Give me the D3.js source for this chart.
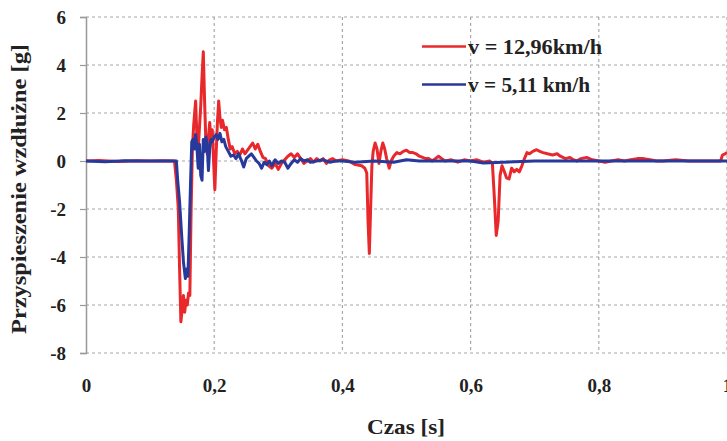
<!DOCTYPE html>
<html><head><meta charset="utf-8">
<script src="https://cdn.jsdelivr.net/npm/d3@7"></script>
<style>
html,body{margin:0;padding:0;background:#fff;}
svg{display:block;}
text{font-family:"Liberation Serif","Times New Roman",serif;font-weight:bold;fill:#222;}
</style></head>
<body>
<svg id="chart" width="727" height="441"></svg>
<script>
// ---- data ----
const xTicks = [0, 0.2, 0.4, 0.6, 0.8, 1];
const xTickLabels = ["0", "0,2", "0,4", "0,6", "0,8", "1"];
const yTicks = [-8, -6, -4, -2, 0, 2, 4, 6];
const yTickLabels = ["-8", "-6", "-4", "-2", "0", "2", "4", "6"];
const seriesNames = ["v = 12,96km/h", "v = 5,11 km/h"];

const redTime = [0,0.02,0.05,0.08,0.1,0.12,0.138,0.141,0.144,0.146,0.148,0.150,0.152,0.154,0.156,0.158,0.160,0.162,0.164,0.166,0.168,0.171,0.173,0.175,0.177,0.179,0.181,0.183,0.185,0.187,0.189,0.191,0.193,0.195,0.197,0.199,0.201,0.203,0.205,0.207,0.209,0.211,0.213,0.216,0.219,0.222,0.225,0.228,0.232,0.236,0.240,0.244,0.248,0.252,0.256,0.260,0.264,0.268,0.272,0.276,0.280,0.285,0.290,0.295,0.300,0.305,0.310,0.315,0.320,0.325,0.330,0.335,0.340,0.345,0.350,0.355,0.360,0.365,0.370,0.375,0.380,0.385,0.390,0.400,0.410,0.420,0.430,0.435,0.438,0.440,0.442,0.444,0.446,0.448,0.451,0.454,0.457,0.460,0.463,0.466,0.469,0.473,0.476,0.480,0.485,0.490,0.495,0.500,0.505,0.510,0.515,0.520,0.525,0.530,0.535,0.540,0.545,0.550,0.555,0.560,0.570,0.580,0.590,0.600,0.610,0.620,0.630,0.634,0.637,0.640,0.643,0.646,0.649,0.652,0.656,0.660,0.664,0.668,0.672,0.676,0.680,0.684,0.688,0.692,0.697,0.703,0.708,0.713,0.720,0.728,0.735,0.740,0.748,0.755,0.760,0.766,0.772,0.781,0.790,0.800,0.810,0.820,0.830,0.840,0.850,0.860,0.870,0.880,0.890,0.900,0.920,0.940,0.960,0.980,0.990,0.993,0.997,1.0];
const redAccel = [0,0.02,-0.02,0.01,0,0.01,0,-0.8,-2.0,-4.5,-6.7,-6.2,-5.6,-6.3,-5.8,-6.0,-5.5,-5.6,-2.0,0.5,1.5,2.5,1.0,0.4,1.4,2.3,3.5,4.55,2.5,0.8,0.3,1.0,1.6,0.8,1.3,0,-1.2,0.3,1.6,2.5,1.8,1.4,1.7,1.3,1.4,0.9,0.5,0.6,0.3,0.4,0.25,0.5,0.3,0.45,0.6,0.75,0.5,0.7,0.4,0.15,0.1,-0.2,-0.3,-0.1,-0.35,-0.1,0.05,0.2,0.3,0.15,0.3,0.1,-0.1,0,0.1,-0.05,0.1,0,0.1,-0.1,0.05,0.1,0,0.05,0,-0.15,-0.2,-0.3,-0.5,-2.5,-3.85,-2.0,-0.2,0.4,0.75,0.5,-0.1,0.4,0.75,0.5,0.1,-0.3,0,0.2,0.35,0.3,0.4,0.45,0.35,0.35,0.3,0.2,0.15,0.1,0.1,0,0.1,0.2,0.1,0,0.05,-0.05,0.05,0,0.05,-0.05,0,-0.1,-1.5,-3.1,-2.5,-0.6,-0.2,-0.4,-0.7,-0.75,-0.3,-0.45,-0.35,-0.45,-0.2,0.1,0.35,0.3,0.4,0.47,0.4,0.35,0.3,0.25,0.3,0.2,0.1,0.15,0.05,0,0.1,0.15,0.05,0,-0.05,0,0.05,0,0.05,0.1,0.1,0.05,0,0,0.05,0,0,0,0,0.25,0.3,0.35];

const blueTime = [0,0.03,0.06,0.09,0.12,0.141,0.143,0.146,0.149,0.152,0.155,0.157,0.159,0.161,0.163,0.165,0.167,0.169,0.171,0.173,0.175,0.177,0.179,0.181,0.183,0.185,0.187,0.189,0.191,0.193,0.195,0.197,0.200,0.203,0.206,0.209,0.212,0.215,0.218,0.222,0.226,0.230,0.234,0.238,0.242,0.246,0.250,0.254,0.258,0.262,0.266,0.270,0.274,0.278,0.282,0.286,0.290,0.295,0.300,0.305,0.310,0.315,0.320,0.325,0.330,0.335,0.340,0.345,0.350,0.360,0.370,0.380,0.390,0.400,0.420,0.450,0.480,0.500,0.520,0.550,0.600,0.620,0.700,0.800,0.900,1.0];
const blueAccel = [0,-0.03,0.01,0,0,0,-0.8,-1.7,-3.0,-4.2,-4.9,-4.5,-4.8,-3.0,-1.0,0.8,0.9,0.5,1.1,0.6,-0.3,0.7,-0.6,-0.8,0.9,0.4,1.0,0.7,-0.4,0.5,0.9,0.8,1.0,1.1,0.9,1.15,0.8,0.9,0.6,0.4,0.2,0.25,0.1,0.3,0.05,-0.25,0.1,0.2,0.3,0.15,0,-0.1,-0.3,-0.05,-0.15,0,-0.2,0.05,-0.1,0,-0.05,-0.3,-0.1,0.05,-0.05,0.1,0,0.05,-0.05,0,0.05,-0.05,0,0,-0.05,0,-0.05,0.05,0,0,0,-0.08,0,0,0,0];

const colors = ["#e8282a", "#27399a"];

// ---- chart ----
const svg = d3.select("#chart");
const x = d3.scaleLinear().domain([0, 1]).range([86, 727]);
const y = d3.scaleLinear().domain([-8, 6]).range([353, 17]);

// grid
const grid = svg.append("g");
grid.selectAll("line.h").data(yTicks).join("line")
  .attr("x1", x(0)).attr("x2", x(1))
  .attr("y1", d => y(d)).attr("y2", d => y(d))
  .attr("stroke", "#a8a8a8").attr("stroke-width", 1.2).attr("stroke-dasharray", "3,3");
grid.selectAll("line.v").data(xTicks.filter(d => d > 0)).join("line")
  .attr("x1", d => x(d)).attr("x2", d => x(d))
  .attr("y1", y(6)).attr("y2", y(-8))
  .attr("stroke", "#a8a8a8").attr("stroke-width", 1.2).attr("stroke-dasharray", "3,3");

// y axis
const yAxis = d3.axisLeft(y).tickValues(yTicks).tickSize(6).tickPadding(14)
  .tickFormat((d, i) => yTickLabels[i]);
const gy = svg.append("g").attr("transform", `translate(${x(0)},0)`).call(yAxis);
gy.select(".domain").attr("stroke", "#999").attr("stroke-width", 1.5);
gy.selectAll(".tick line").attr("stroke", "#999").attr("stroke-width", 1.2);
gy.selectAll(".tick text").attr("font-size", 19).attr("fill", "#222")
  .style("font-family", '"Liberation Serif",serif').style("font-weight", "bold");

// x axis labels
const xAxis = d3.axisBottom(x).tickValues(xTicks).tickSize(0).tickPadding(26)
  .tickFormat((d, i) => xTickLabels[i]);
const gx = svg.append("g").attr("transform", `translate(0,${y(-8)})`).call(xAxis);
gx.select(".domain").remove();
gx.selectAll(".tick text").attr("font-size", 19).attr("fill", "#222")
  .style("font-family", '"Liberation Serif",serif').style("font-weight", "bold");

// lines
const line = d3.line().x(d => x(d[0])).y(d => y(d[1]));
const redData = redTime.map((t, i) => [t, redAccel[i]]);
const blueData = blueTime.map((t, i) => [t, blueAccel[i]]);
svg.append("path").datum(redData).attr("d", line)
  .attr("fill", "none").attr("stroke", colors[0]).attr("stroke-width", 3).attr("stroke-linejoin", "round");
svg.append("path").datum(blueData).attr("d", line)
  .attr("fill", "none").attr("stroke", colors[1]).attr("stroke-width", 3).attr("stroke-linejoin", "round");

// legend
const legY = [46.5, 84.5];
const legW = [134, 122];
const lg = svg.append("g");
seriesNames.forEach((name, i) => {
  lg.append("line").attr("x1", 422).attr("x2", 466).attr("y1", legY[i]).attr("y2", legY[i])
    .attr("stroke", colors[i]).attr("stroke-width", 2.5);
  lg.append("text").attr("x", 468).attr("y", legY[i] + 7).attr("font-size", 20)
    .attr("textLength", legW[i]).attr("lengthAdjust", "spacingAndGlyphs").text(name);
});

// axis titles
svg.append("text").attr("x", 406).attr("y", 434).attr("text-anchor", "middle")
  .attr("font-size", 21).attr("textLength", 78).attr("lengthAdjust", "spacingAndGlyphs").text("Czas [s]");
svg.append("text").attr("transform", "translate(26,189) rotate(-90)").attr("text-anchor", "middle")
  .attr("font-size", 21).attr("textLength", 290).attr("lengthAdjust", "spacingAndGlyphs")
  .text("Przyspieszenie wzdłużne [g]");
</script>
</body></html>
